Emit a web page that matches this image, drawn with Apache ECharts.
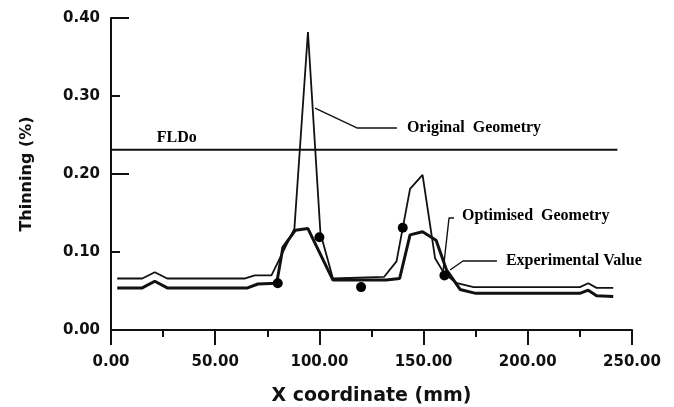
<!DOCTYPE html>
<html>
<head>
<meta charset="utf-8">
<script src="https://cdn.jsdelivr.net/npm/echarts@6.0.0/dist/echarts.min.js"></script>
<style>
html,body{margin:0;padding:0;background:#fff;}
#main{width:674px;height:407px;}
</style>
</head>
<body>
<div id="main"></div>
<script>
// data
var x_ticks=[0,50,100,150,200,250];
var y_ticks=[0,0.1,0.2,0.3,0.4];

var original_x=[3,15,21,27,64,69,77,88,94.5,100.5,106.5,131,137,143.5,149.5,155.5,160,166,174,225,229,233,241];
var original_y=[0.066,0.066,0.074,0.066,0.066,0.070,0.070,0.130,0.382,0.124,0.066,0.068,0.088,0.181,0.199,0.092,0.072,0.060,0.055,0.055,0.060,0.054,0.054];

var optimised_x=[3,15,21,27,65.5,70.5,79.5,82.5,88.5,94.5,106.5,132,138.5,143.5,149.5,156,161,167.5,175,225,229,233,241];
var optimised_y=[0.054,0.054,0.0625,0.054,0.054,0.059,0.060,0.106,0.128,0.130,0.064,0.064,0.066,0.122,0.126,0.115,0.077,0.052,0.047,0.047,0.051,0.044,0.043];

var exp_x=[80,100,120,140,160];
var exp_y=[0.060,0.119,0.055,0.131,0.070];

var fldo_y=0.231;
var fldo_x=[0,243];

// annotation text and leader lines (data coordinates)
var note_names=['FLDo','Original  Geometry','Optimised  Geometry','Experimental Value'];
var note_x=[22,142,168.4,189.5];
var note_y=[0.2465,0.2596,0.146,0.0885];
var leader_orig=[[97.9,0.2846],[118,0.259],[137.2,0.259]];
var leader_opt=[[159.3,0.0744],[162.2,0.1436],[164.6,0.1436]];
var leader_exp=[[162.7,0.0769],[168.9,0.0885],[185.2,0.0885]];

function pts(xs,ys){
    return xs.map(function(x,i){return [x,ys[i]];});
}

var ink='#111';
var bold_sans={fontFamily:'DejaVu Sans',fontWeight:'bold',color:ink};

function leader(d){
    return {type:'line',data:d,symbol:'none',silent:true,
        lineStyle:{color:ink,width:1.4},z:2};
}

var option={
    animation:false,
    backgroundColor:'#fff',
    grid:{left:111,right:42,top:18,bottom:77,outerBoundsMode:'none'},
    xAxis:{
        type:'value',min:x_ticks[0],max:x_ticks[x_ticks.length-1],interval:x_ticks[1]-x_ticks[0],
        name:'X coordinate (mm)',nameLocation:'middle',nameGap:57,
        nameTextStyle:Object.assign({fontSize:19},bold_sans),
        axisLine:{onZero:false,lineStyle:{color:ink,width:2}},
        axisTick:{length:15,lineStyle:{color:ink,width:2}},
        minorTick:{show:true,splitNumber:2,length:7,lineStyle:{color:ink,width:2}},
        splitLine:{show:false},
        axisLabel:Object.assign({fontSize:15,margin:25,formatter:function(v){return v.toFixed(2);}},bold_sans)
    },
    yAxis:[{
        type:'value',min:y_ticks[0],max:y_ticks[y_ticks.length-1],interval:y_ticks[1]-y_ticks[0],
        name:'Thinning (%)',nameLocation:'middle',nameGap:76,
        nameTextStyle:Object.assign({fontSize:16},bold_sans),
        axisLine:{show:true,onZero:false,lineStyle:{color:ink,width:2}},
        axisTick:{show:true,inside:true,length:9,lineStyle:{color:ink,width:2}},
        splitLine:{show:false},
        axisLabel:Object.assign({fontSize:15,margin:11,formatter:function(v){return v.toFixed(2);}},bold_sans)
    },{
        // long ticks every 0.2
        type:'value',min:y_ticks[0],max:y_ticks[y_ticks.length-1],interval:0.2,position:'left',
        axisLine:{show:false},
        axisTick:{show:true,inside:true,length:18,lineStyle:{color:ink,width:2}},
        axisLabel:{show:false},
        splitLine:{show:false}
    }],
    series:[
        {name:'Original Geometry',type:'line',data:pts(original_x,original_y),symbol:'none',
            lineStyle:{color:ink,width:1.8},z:3},
        {name:'Optimised Geometry',type:'line',data:pts(optimised_x,optimised_y),symbol:'none',
            lineStyle:{color:ink,width:3},z:4},
        {name:'Experimental Value',type:'scatter',data:pts(exp_x,exp_y),symbolSize:10,
            itemStyle:{color:'#000',opacity:1},z:5},
        {name:'FLDo',type:'line',data:pts(fldo_x,[fldo_y,fldo_y]),symbol:'none',
            lineStyle:{color:ink,width:2},z:2},
        leader(leader_orig),
        leader(leader_opt),
        leader(leader_exp),
        {type:'scatter',symbolSize:0,silent:true,itemStyle:{opacity:1},
            data:note_x.map(function(x,i){return {name:note_names[i],value:[x,note_y[i]]};}),
            label:{show:true,position:'right',distance:0,formatter:'{b}',opacity:1,
                fontFamily:'Liberation Serif',fontWeight:'bold',fontSize:16,color:'#000'}}
    ]
};

echarts.init(document.getElementById('main')).setOption(option);
</script>
</body>
</html>
